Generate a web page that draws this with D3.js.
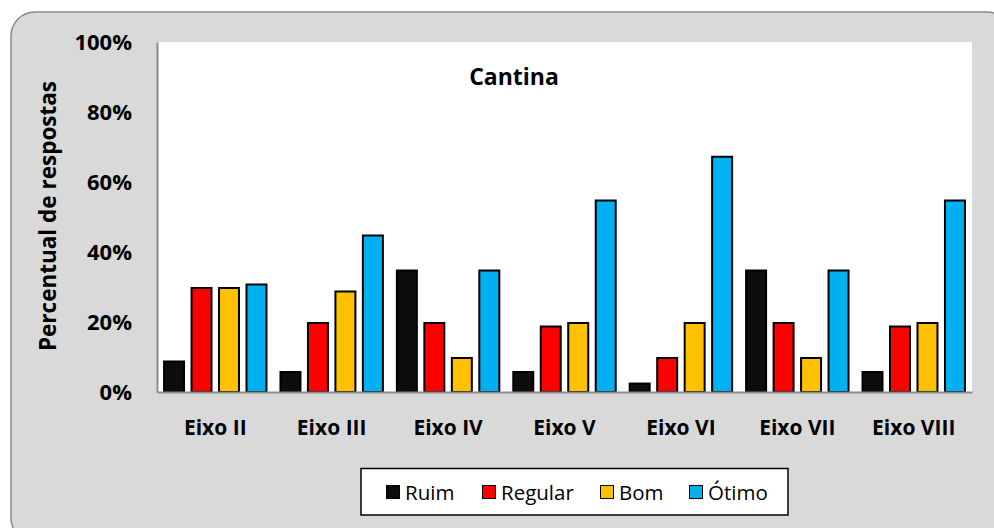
<!DOCTYPE html>
<html>
<head>
<meta charset="utf-8">
<script src="https://cdn.jsdelivr.net/npm/d3@7"></script>
<style>
  html, body { margin: 0; padding: 0; background: #fff; }
  svg text { font-family: "Open Sans", sans-serif; fill: #000; }
</style>
</head>
<body>
<div id="chart"></div>
<script>
'use strict'
var categories = ['Eixo II', 'Eixo III', 'Eixo IV', 'Eixo V', 'Eixo VI', 'Eixo VII', 'Eixo VIII']
var seriesNames = ['Ruim', 'Regular', 'Bom', 'Ótimo']
var seriesColors = ['#0d0d0d', '#ff0000', '#ffc000', '#00b0f0']
// percent values per series, same order as categories
var ruim    = [9, 6, 35, 6, 2.7, 35, 6]
var regular = [30, 20, 20, 19, 10, 20, 19]
var bom     = [30, 29, 10, 20, 20, 10, 20]
var otimo   = [31, 45, 35, 55, 67.5, 35, 55]
var yTicks = [0, 0.2, 0.4, 0.6, 0.8, 1]

var series = [ruim, regular, bom, otimo]
var W = 994, H = 528
var plot = { left: 157, right: 972, top: 42, bottom: 392 }

var svg = d3.select('#chart').append('svg')
            .attr('width', W)
            .attr('height', H)

// outer chart frame
svg.append('rect')
   .attr('x', 11).attr('y', 12)
   .attr('width', 1000).attr('height', 530)
   .attr('rx', 24)
   .attr('fill', '#d9d9d9')
   .attr('stroke', '#8a8a8a')
   .attr('stroke-width', 1.5)

// plot area
svg.append('rect')
   .attr('x', plot.left).attr('y', plot.top)
   .attr('width', plot.right - plot.left)
   .attr('height', plot.bottom - plot.top)
   .attr('fill', '#fff')

var x0 = d3.scaleBand().domain(categories)
           .range([plot.left, plot.right])
           .paddingInner(0.103).paddingOuter(0.052)
var x1 = d3.scaleBand().domain(d3.range(seriesNames.length))
           .range([0, x0.bandwidth()])
           .paddingInner(0.2).paddingOuter(0)
var y = d3.scaleLinear().domain([0, 1]).range([plot.bottom, plot.top])

// bars
var groups = svg.append('g').selectAll('g')
  .data(categories)
  .join('g')
  .attr('transform', function (d) { return 'translate(' + x0(d) + ',0)' })

groups.selectAll('rect')
  .data(function (d, i) { return series.map(function (s, k) { return { k: k, v: s[i] / 100 } }) })
  .join('rect')
  .attr('x', function (d) { return x1(d.k) + 1 })
  .attr('width', x1.bandwidth() - 2)
  .attr('y', function (d) { return y(d.v) + 1 })
  .attr('height', function (d) { return Math.max(0, y(0) - y(d.v) - 1) })
  .attr('fill', function (d) { return seriesColors[d.k] })
  .attr('stroke', '#000')
  .attr('stroke-width', 2)

// y axis
var yAxis = svg.append('g')
  .attr('transform', 'translate(' + plot.left + ',0)')
  .call(d3.axisLeft(y).tickValues(yTicks).tickFormat(d3.format('.0%')).tickSize(0).tickPadding(25))
yAxis.select('.domain').attr('stroke', '#8c8c8c').attr('stroke-width', 2)
yAxis.selectAll('text')
  .attr('font-size', 22).attr('font-weight', 'bold')
  .attr('font-family', '"Open Sans", sans-serif')
  .attr('dy', '0.35em')

// x axis
var xAxis = svg.append('g')
  .attr('transform', 'translate(0,' + plot.bottom + ')')
  .call(d3.axisBottom(x0).tickSize(0).tickPadding(28))
xAxis.select('.domain').attr('stroke', '#8c8c8c').attr('stroke-width', 2)
xAxis.selectAll('text')
  .attr('font-size', 21).attr('font-weight', 'bold')
  .attr('font-family', '"Open Sans", sans-serif')

// title
svg.append('text')
   .attr('x', 514).attr('y', 85)
   .attr('text-anchor', 'middle')
   .attr('font-size', 23).attr('font-weight', 'bold')
   .text('Cantina')

// y axis title
svg.append('text')
   .attr('transform', 'translate(56,216) rotate(-90)')
   .attr('text-anchor', 'middle')
   .attr('font-size', 22.5).attr('font-weight', 'bold')
   .text('Percentual de respostas')

// legend
var legend = svg.append('g')
legend.append('rect')
  .attr('x', 361).attr('y', 468.5)
  .attr('width', 427).attr('height', 46.5)
  .attr('fill', '#fff')
  .attr('stroke', '#000')
  .attr('stroke-width', 1.5)

var legendX = [386, 482, 600, 689]
var items = legend.selectAll('g.item')
  .data(seriesNames)
  .join('g')
  .attr('class', 'item')
  .attr('transform', function (d, i) { return 'translate(' + legendX[i] + ',485)' })
items.append('rect')
  .attr('x', 0.5).attr('y', 0.5)
  .attr('width', 13).attr('height', 13)
  .attr('fill', function (d, i) { return seriesColors[i] })
  .attr('stroke', '#000').attr('stroke-width', 1)
items.append('text')
  .attr('x', 19).attr('y', 14.5)
  .attr('font-size', 20.5)
  .text(function (d) { return d })
</script>
</body>
</html>
